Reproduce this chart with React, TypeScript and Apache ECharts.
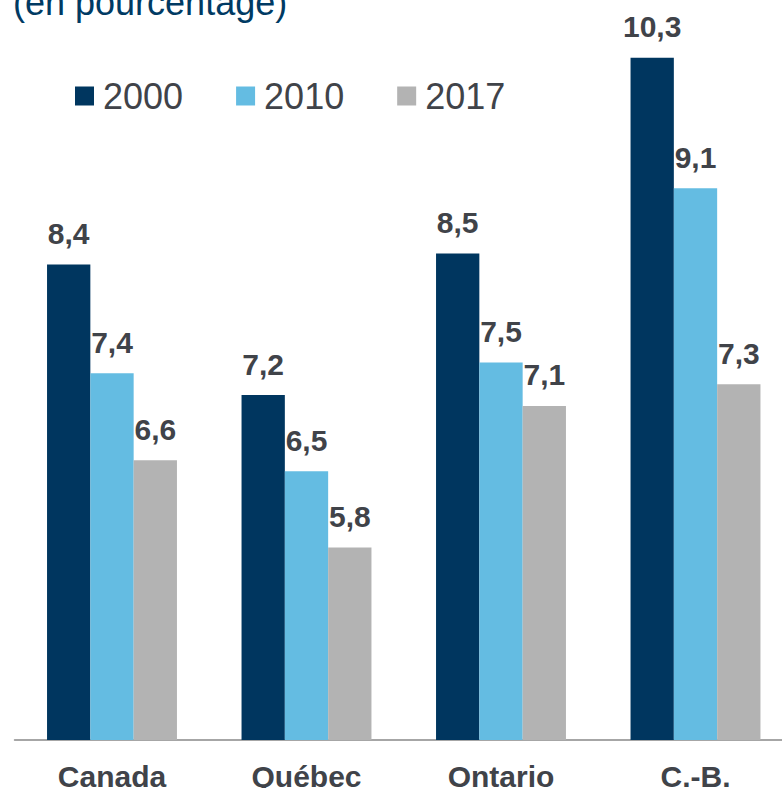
import React, { useEffect, useRef } from "react";
import * as echarts from "echarts";

const categories = ["Canada", "Québec", "Ontario", "C.-B."];
const seriesNames = ["2000", "2010", "2017"];
const values2000 = [8.4, 7.2, 8.5, 10.3];
const values2010 = [7.4, 6.5, 7.5, 9.1];
const values2017 = [6.6, 5.8, 7.1, 7.3];
const titleText = "(en pourcentage)";

const colors = ["#00365f", "#64bce2", "#b3b3b3"];
const FONT = "'Liberation Sans', Arial, Helvetica, sans-serif";
const TEXT_COLOR = "#404349";

export default function App() {
  const ref = useRef<HTMLDivElement>(null);
  useEffect(() => {
    if (!ref.current) return;
    const chart = echarts.init(ref.current, undefined, { renderer: "svg" });
    const data = [values2000, values2010, values2017];
    chart.setOption({
      animation: false,
      title: {
        text: titleText,
        left: 13,
        top: -16,
        padding: 0,
        textStyle: {
          fontFamily: FONT,
          fontSize: 36,
          fontWeight: "normal",
          color: "#003a63",
          lineHeight: 36,
        },
      },
      legend: {
        data: seriesNames,
        left: 75,
        top: 78,
        padding: 0,
        icon: "rect",
        itemWidth: 19,
        itemHeight: 19,
        itemGap: 53,
        textStyle: {
          fontFamily: FONT,
          fontSize: 36,
          color: TEXT_COLOR,
          lineHeight: 36,
          padding: [0, 0, 0, 4],
        },
      },
      grid: {
        left: 14.75,
        width: 778,
        top: 36,
        bottom: 48,
        containLabel: false,
        outerBoundsMode: "none",
      },
      xAxis: {
        type: "category",
        data: categories,
        axisTick: { show: false },
        axisLine: { show: true, lineStyle: { color: "#a6a6a6", width: 2 } },
        axisLabel: {
          margin: 24,
          fontFamily: FONT,
          fontSize: 30,
          fontWeight: "bold",
          color: TEXT_COLOR,
          lineHeight: 24,
        },
      },
      yAxis: {
        type: "value",
        min: 4.03,
        max: 10.5,
        show: false,
        splitLine: { show: false },
      },
      series: seriesNames.map((name, i) => ({
        name,
        type: "bar",
        data: data[i],
        barGap: "0%",
        barCategoryGap: "33.2%",
        itemStyle: { color: colors[i] },
        label: {
          show: true,
          position: "top",
          distance: 16,
          fontFamily: FONT,
          fontSize: 30,
          fontWeight: "bold",
          color: TEXT_COLOR,
          lineHeight: 30,
          formatter: (p: any) => Number(p.value).toFixed(1).replace(".", ","),
        },
      })),
    });
    return () => chart.dispose();
  }, []);
  return (
    <div
      ref={ref}
      style={{ position: "fixed", left: 0, top: 0, width: 782, height: 788, background: "#ffffff" }}
    />
  );
}
